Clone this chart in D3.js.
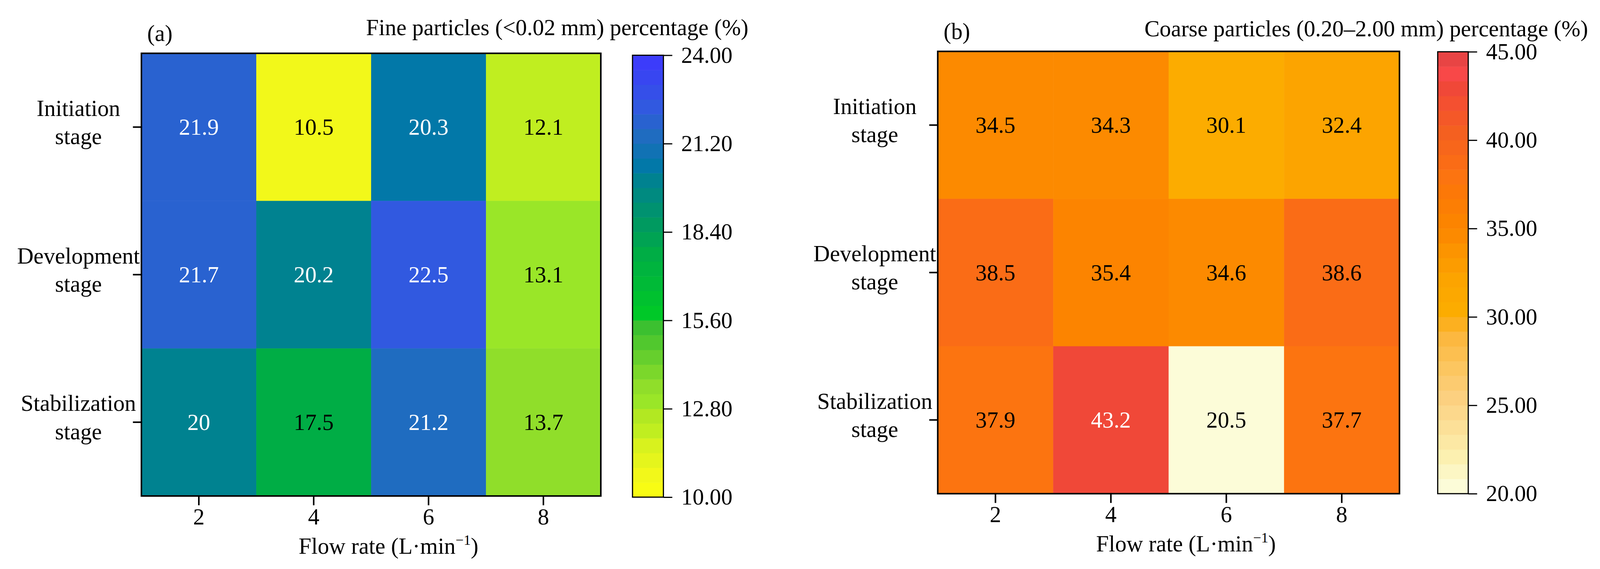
<!DOCTYPE html>
<html>
<head>
<meta charset="utf-8">
<title>Particle percentage heatmaps</title>
<script src="https://cdn.jsdelivr.net/npm/d3@7"></script>
<style>
  html, body { margin: 0; padding: 0; background: #fff; overflow: hidden; }
  svg { display: block; width: 100vw; height: 100vh; font-family: "Liberation Serif", "Times New Roman", serif; }
</style>
</head>
<body>
<svg id="chart" viewBox="0 0 4141 1457" preserveAspectRatio="xMidYMid meet"></svg>
<script>
// ---- data ----
var stages = ["Initiation stage", "Development stage", "Stabilization stage"];
var flowRates = [2, 4, 6, 8];
var fineValues = [
  [21.9, 10.5, 20.3, 12.1],
  [21.7, 20.2, 22.5, 13.1],
  [20.0, 17.5, 21.2, 13.7]
];
var coarseValues = [
  [34.5, 34.3, 30.1, 32.4],
  [38.5, 35.4, 34.6, 38.6],
  [37.9, 43.2, 20.5, 37.7]
];
var fineTicks = [10, 12.8, 15.6, 18.4, 21.2, 24];
var coarseTicks = [20, 25, 30, 35, 40, 45];
var fineTitle = "Fine particles (<0.02 mm) percentage (%)";
var coarseTitle = "Coarse particles (0.20\u20132.00 mm) percentage (%)";

// colour stops (value at band middle -> colour)
var fineStopVals = [10.23, 10.7, 11.63, 12.1, 12.57, 13.03, 13.5, 15.37, 15.83, 17.7, 18.63, 20.03, 20.5, 21.43, 21.9, 22.37, 23.77];
var fineStopCols = ["#f8fc14", "#f2f81a", "#d8f21e", "#c0ee20", "#b2e822", "#9ae628", "#90de2a", "#3cc030", "#00c828", "#00ad45", "#009a60", "#008290", "#0278a8", "#1f6cc0", "#2962d0", "#3159e0", "#3c3cfa"];
var coarseStopVals = [20.42, 22.08, 23.75, 25.42, 27.08, 28.75, 29.58, 30.42, 32.08, 33.75, 34.58, 35.42, 37.08, 37.92, 38.75, 40.42, 42.08, 42.92, 43.75, 44.58];
var coarseStopCols = ["#fcfcd8", "#fcf0b0", "#fce098", "#fcd080", "#fcc660", "#fcb840", "#fcb020", "#fcac00", "#fca400", "#fc9400", "#fc8a00", "#fc8400", "#fc7808", "#fc7410", "#fa6c16", "#f46020", "#f45030", "#f04838", "#f84848", "#e84444"];

var nBands = 30;
var svg = d3.select("#chart");
var FS = 59;

// d3 axes put their own font on the group, take it off so the serif applies
function plainAxis(sel) {
  sel.attr("font-family", null).attr("font-size", FS);
  sel.select(".domain").remove();
}

function drawPanel(cfg) {
  var g = svg.append("g");
  var p = cfg.plot, c = cfg.cbar;

  var x = d3.scaleBand().domain(flowRates).range([p.x0, p.x1]);
  var y = d3.scaleBand().domain(stages).range([p.y0, p.y1]);

  var lin = d3.scaleLinear().domain(cfg.stopVals).range(cfg.stopCols)
      .interpolate(d3.interpolateRgb).clamp(true);
  var step = (cfg.max - cfg.min) / nBands;
  var bandCols = d3.range(nBands).map(function(k){ return lin(cfg.min + (k + 0.5) * step); });
  var color = d3.scaleQuantize().domain([cfg.min, cfg.max]).range(bandCols);

  var cells = [];
  cfg.values.forEach(function(row, i){
    row.forEach(function(v, j){ cells.push({stage: stages[i], rate: flowRates[j], v: v}); });
  });

  g.selectAll(".cell").data(cells).enter().append("rect")
    .attr("class", "cell")
    .attr("x", function(d){ return x(d.rate); })
    .attr("y", function(d){ return y(d.stage); })
    .attr("width", x.bandwidth() + 0.5)
    .attr("height", y.bandwidth() + 0.5)
    .attr("fill", function(d){ return color(d.v); });

  g.selectAll(".val").data(cells).enter().append("text")
    .attr("class", "val")
    .attr("x", function(d){ return x(d.rate) + x.bandwidth() / 2; })
    .attr("y", function(d){ return y(d.stage) + y.bandwidth() / 2; })
    .attr("dy", "0.34em")
    .attr("text-anchor", "middle")
    .attr("font-size", FS)
    .attr("fill", function(d){ return d3.lab(color(d.v)).l < 58 ? "#fff" : "#000"; })
    .text(function(d){ return String(d.v); });

  // frame
  g.append("rect")
    .attr("x", p.x0).attr("y", p.y0)
    .attr("width", p.x1 - p.x0).attr("height", p.y1 - p.y0)
    .attr("fill", "none").attr("stroke", "#000").attr("stroke-width", 4);

  // x axis
  var xa = g.append("g").attr("transform", "translate(0," + p.y1 + ")")
    .call(d3.axisBottom(x).tickSize(24).tickSizeOuter(0).tickPadding(8));
  plainAxis(xa);
  xa.selectAll(".tick line").attr("stroke-width", 4);

  // y axis, two-line labels
  var ya = g.append("g").attr("transform", "translate(" + p.x0 + ",0)")
    .call(d3.axisLeft(y).tickSize(22).tickSizeOuter(0));
  plainAxis(ya);
  ya.selectAll(".tick line").attr("stroke-width", 4);
  ya.selectAll(".tick text").remove();
  ya.selectAll(".tick").append("text")
    .attr("text-anchor", "middle")
    .attr("fill", "#000")
    .each(function(d){
      var k = d.lastIndexOf(" ");
      var t = d3.select(this);
      t.append("tspan").attr("x", -163).attr("y", -29).text(d.slice(0, k));
      t.append("tspan").attr("x", -163).attr("y", 44).text(d.slice(k + 1));
    });

  // x title
  var xt = g.append("text")
    .attr("x", (p.x0 + p.x1) / 2 + 45).attr("y", p.y1 + 150)
    .attr("text-anchor", "middle").attr("font-size", FS);
  xt.append("tspan").text("Flow rate (L\u00b7min");
  xt.append("tspan").attr("font-size", 37).attr("dy", -24).text("\u22121");
  xt.append("tspan").attr("dy", 24).text(")");

  // panel letter
  g.append("text").attr("x", p.x0 + 15).attr("y", cfg.letterY)
    .attr("font-size", FS).text(cfg.letter);

  // colour bar
  var cy = d3.scaleLinear().domain([cfg.min, cfg.max]).range([c.y1, c.y0]);
  g.selectAll(".band").data(d3.range(nBands)).enter().append("rect")
    .attr("class", "band")
    .attr("x", c.x0)
    .attr("y", function(k){ return cy(cfg.min + (k + 1) * step); })
    .attr("width", c.x1 - c.x0)
    .attr("height", function(k){ return cy(cfg.min + k * step) - cy(cfg.min + (k + 1) * step) + 0.5; })
    .attr("fill", function(k){ return bandCols[k]; });
  g.append("rect")
    .attr("x", c.x0).attr("y", c.y0)
    .attr("width", c.x1 - c.x0).attr("height", c.y1 - c.y0)
    .attr("fill", "none").attr("stroke", "#000").attr("stroke-width", 3);
  var ca = g.append("g").attr("transform", "translate(" + c.x1 + ",0)")
    .call(d3.axisRight(cy).tickValues(cfg.ticks).tickFormat(d3.format(".2f"))
      .tickSize(23).tickPadding(23));
  plainAxis(ca);
  ca.selectAll(".tick line").attr("stroke-width", 3);

  // colour bar title
  g.append("text").attr("x", cfg.titleX).attr("y", cfg.titleY)
    .attr("text-anchor", "end").attr("font-size", FS).text(cfg.title);
}

drawPanel({
  values: fineValues, ticks: fineTicks, min: 10, max: 24,
  stopVals: fineStopVals, stopCols: fineStopCols,
  plot: {x0: 366, x1: 1555, y0: 130, y1: 1276},
  cbar: {x0: 1637, x1: 1717, y0: 135, y1: 1279},
  letter: "(a)", letterY: 98,
  title: fineTitle, titleX: 1937, titleY: 83
});
drawPanel({
  values: coarseValues, ticks: coarseTicks, min: 20, max: 45,
  stopVals: coarseStopVals, stopCols: coarseStopCols,
  plot: {x0: 2427, x1: 3622, y0: 125, y1: 1270},
  cbar: {x0: 3721, x1: 3800, y0: 126, y1: 1270},
  letter: "(b)", letterY: 93,
  title: coarseTitle, titleX: 4110, titleY: 86
});
</script>
</body>
</html>
